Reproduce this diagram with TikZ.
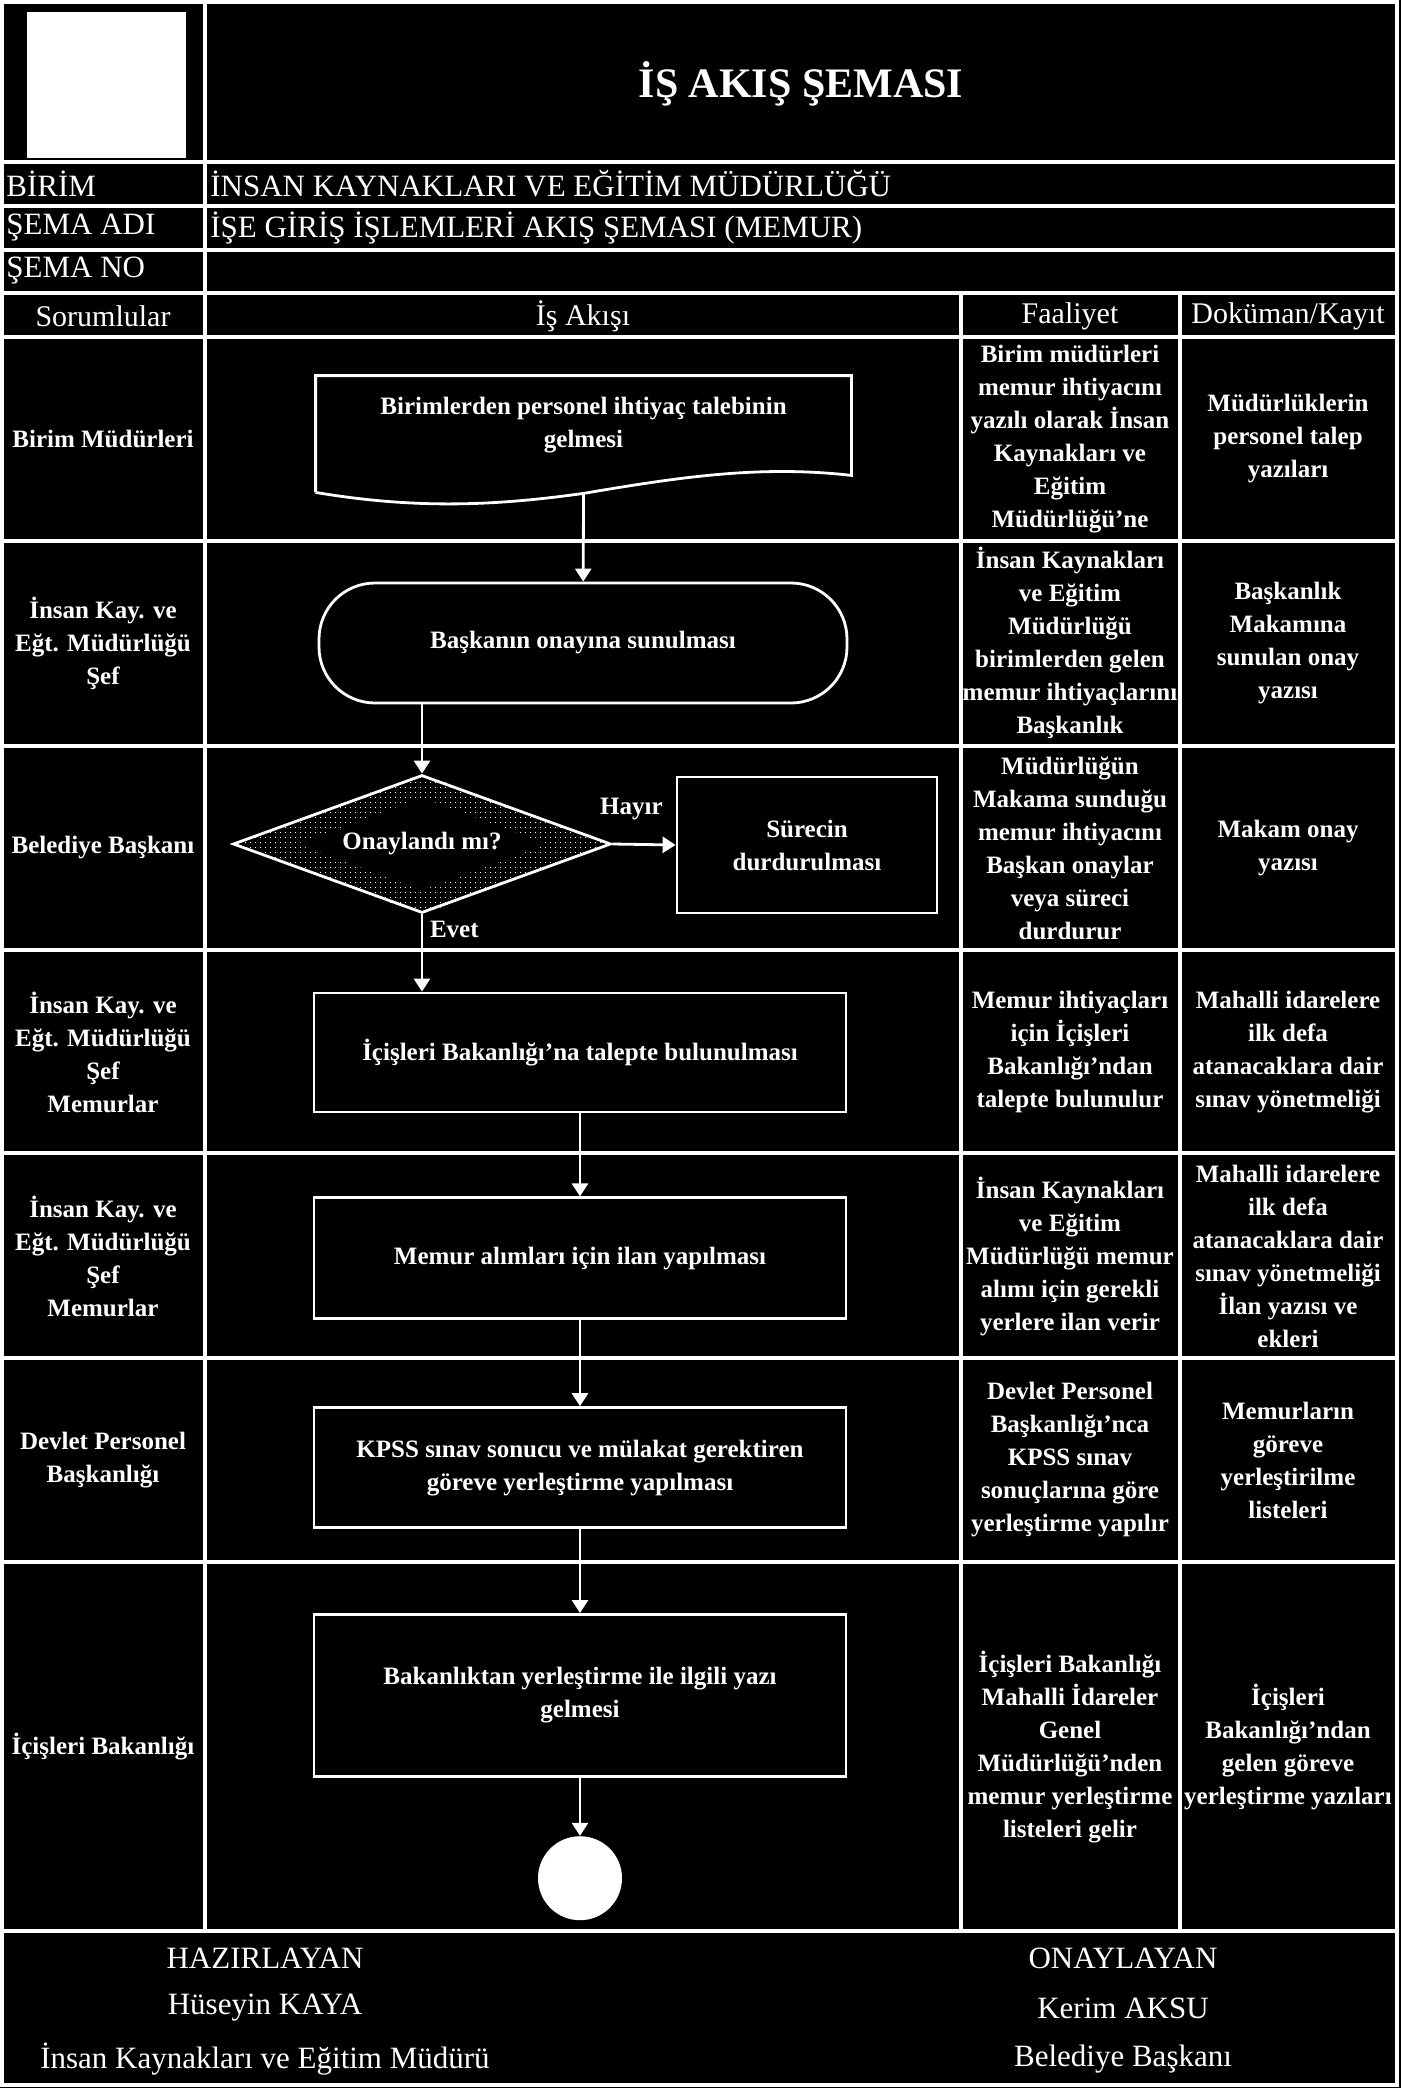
\documentclass[tikz,border=0pt]{standalone}
\usepackage{fontspec}
\setmainfont{Liberation Serif}
\usepackage{tikz}
\usetikzlibrary{shapes.geometric, arrows.meta, positioning, calc, patterns}
\definecolor{pagebg}{HTML}{000000}
\definecolor{linemain}{HTML}{FFFFFF}
\definecolor{textmain}{HTML}{FFFFFF}
\pgfdeclarepatternformonly{sparsedots}{\pgfpointorigin}{\pgfqpoint{2.5pt}{2.5pt}}{\pgfqpoint{2.5pt}{2.5pt}}{%
    \pgfpathrectangle{\pgfpointorigin}{\pgfqpoint{0.55pt}{0.55pt}}\pgfusepath{fill}}
\newcommand{\lanefont}{\bfseries\fontsize{12.5}{16.5}\selectfont}
\newcommand{\headfont}{\fontsize{15.5}{18}\selectfont}
\tikzstyle{grid} = [draw=linemain, line width=1.7pt]
\tikzstyle{lane} = [align=center, text=textmain, font=\lanefont, inner sep=0pt]
\tikzstyle{head} = [text=textmain, font=\headfont, inner sep=0pt]
\tikzstyle{process} = [rectangle, draw=linemain, line width=1.4pt, minimum width=266pt, minimum height=60pt, align=center, text=textmain, font=\lanefont]
\tikzstyle{arrow} = [line width=1.4pt, draw=linemain, -{Triangle[length=6.5pt, width=8pt]}]

\begin{document}
\begin{tikzpicture}[x=0.5pt, y=-0.5pt]
    \fill[pagebg] (0,0) rectangle (1401,2088);
    \useasboundingbox (0,0) rectangle (1401,2088);

    % Frame
    \draw[grid] (2,2) rectangle (1397,2085);
    \draw[grid] (205,2) -- (205,1931);
    \foreach \y in {162,206,250,293,337,541,746,950,1153,1358,1562,1931}
        \draw[grid] (2,\y) -- (1397,\y);
    \foreach \x in {961,1180}
        \draw[grid] (\x,293) -- (\x,1931);

    % Header
    \node[fill=linemain, minimum width=79.5pt, minimum height=73pt, inner sep=0pt] (logo) at (106,85) {};
    \node[head, font=\bfseries\fontsize{21}{24}\selectfont] (title) at (801,84) {İŞ AKIŞ ŞEMASI};
    \node[head, anchor=west] (birim) at (6,184) {BİRİM};
    \node[head, anchor=west] (birimad) at (210,184) {İNSAN KAYNAKLARI VE EĞİTİM MÜDÜRLÜĞÜ};
    \node[head, anchor=west] (semaadi) at (6,228) {ŞEMA ADI};
    \node[head, anchor=west] (semaad) at (210,228) {İŞE GİRİŞ İŞLEMLERİ AKIŞ ŞEMASI (MEMUR)};
    \node[head, anchor=west] (semano) at (6,271) {ŞEMA NO};
    \node[head, font=\fontsize{15}{18}\selectfont] (colsor) at (103,316) {Sorumlular};
    \node[head, font=\fontsize{15}{18}\selectfont] (colis) at (583,316) {İş Akışı};
    \node[head, font=\fontsize{15}{18}\selectfont] (colfaa) at (1070,316) {Faaliyet};
    \node[head, font=\fontsize{15}{18}\selectfont] (coldok) at (1288,316) {Doküman/Kayıt};

    % Sorumlular
    \node[lane] (sor1) at (103,439) {Birim Müdürleri};
    \node[lane] (sor2) at (103,643) {İnsan Kay. ve\\Eğt. Müdürlüğü\\Şef};
    \node[lane] (sor3) at (103,848) {Belediye Başkanı};
    \node[lane] (sor4) at (103,1052) {İnsan Kay. ve\\Eğt. Müdürlüğü\\Şef\\Memurlar};
    \node[lane] (sor5) at (103,1256) {İnsan Kay. ve\\Eğt. Müdürlüğü\\Şef\\Memurlar};
    \node[lane] (sor6) at (103,1460) {Devlet Personel\\Başkanlığı};
    \node[lane] (sor7) at (103,1747) {İçişleri Bakanlığı};

    % Faaliyet
    \node[lane] (faa1) at (1070,439) {Birim müdürleri\\memur ihtiyacını\\yazılı olarak İnsan\\Kaynakları ve\\Eğitim\\Müdürlüğü'ne};
    \node[lane] (faa2) at (1070,643) {İnsan Kaynakları\\ve Eğitim\\Müdürlüğü\\birimlerden gelen\\memur ihtiyaçlarını\\Başkanlık};
    \node[lane] (faa3) at (1070,848) {Müdürlüğün\\Makama sunduğu\\memur ihtiyacını\\Başkan onaylar\\veya süreci\\durdurur};
    \node[lane] (faa4) at (1070,1052) {Memur ihtiyaçları\\için İçişleri\\Bakanlığı'ndan\\talepte bulunulur};
    \node[lane] (faa5) at (1070,1256) {İnsan Kaynakları\\ve Eğitim\\Müdürlüğü memur\\alımı için gerekli\\yerlere ilan verir};
    \node[lane] (faa6) at (1070,1460) {Devlet Personel\\Başkanlığı'nca\\KPSS sınav\\sonuçlarına göre\\yerleştirme yapılır};
    \node[lane] (faa7) at (1070,1747) {İçişleri Bakanlığı\\Mahalli İdareler\\Genel\\Müdürlüğü'nden\\memur yerleştirme\\listeleri gelir};

    % Doküman/Kayıt
    \node[lane] (dok1) at (1288,439) {Müdürlüklerin\\personel talep\\yazıları};
    \node[lane] (dok2) at (1288,643) {Başkanlık\\Makamına\\sunulan onay\\yazısı};
    \node[lane] (dok3) at (1288,848) {Makam onay\\yazısı};
    \node[lane] (dok4) at (1288,1052) {Mahalli idarelere\\ilk defa\\atanacaklara dair\\sınav yönetmeliği};
    \node[lane] (dok5) at (1288,1256) {Mahalli idarelere\\ilk defa\\atanacaklara dair\\sınav yönetmeliği\\İlan yazısı ve\\ekleri};
    \node[lane] (dok6) at (1288,1460) {Memurların\\göreve\\yerleştirilme\\listeleri};
    \node[lane] (dok7) at (1288,1747) {İçişleri\\Bakanlığı'ndan\\gelen göreve\\yerleştirme yazıları};

    % Flow
    \node[process, draw=none, minimum width=266.5pt, minimum height=48.5pt] (talepdoc) at (583.5,425.5) {Birimlerden personel ihtiyaç talebinin\\gelmesi};
    \draw[line width=1.4pt, linemain] ($(talepdoc.south west)+(0,17)$) -- (talepdoc.north west) -- (talepdoc.north east) -- (talepdoc.south east)
        .. controls (760,465) and (680,477) .. ($(talepdoc.south)+(0,18)$)
        .. controls (500,505) and (420,510) .. ($(talepdoc.south west)+(0,17)$);
    \coordinate (docwave) at ($(talepdoc.south)+(0,18)$);

    \node[process, rounded corners=28pt, minimum width=264pt] (onay) at (583,643) {Başkanın onayına sunulması};

    \node[diamond, draw=linemain, line width=1.4pt, minimum width=189pt, minimum height=69pt, aspect=2.74, inner sep=0pt, text=textmain, font=\lanefont] (karar) at (422,844) {Onaylandı mı?};
    \fill[pattern=sparsedots, pattern color=linemain, even odd rule]
        (karar.north) -- (karar.east) -- (karar.south) -- (karar.west) -- cycle
        ($(karar.north)+(0,24)$) -- ($(karar.east)+(-65,0)$) -- ($(karar.south)+(0,-24)$) -- ($(karar.west)+(65,0)$) -- cycle;

    \node[process, minimum width=130pt, minimum height=68pt] (durdur) at (807,845) {Sürecin\\durdurulması};

    \node[process, minimum height=59.5pt] (talep) at (580,1052.5) {İçişleri Bakanlığı'na talepte bulunulması};
    \node[process, below=41.5pt of talep, minimum height=60.5pt] (ilan) {Memur alımları için ilan yapılması};
    \node[process, below=43pt of ilan] (kpss) {KPSS sınav sonucu ve mülakat gerektiren\\göreve yerleştirme yapılması};
    \node[process, below=42pt of kpss, minimum height=81pt] (yazi) {Bakanlıktan yerleştirme ile ilgili yazı\\gelmesi};
    \node[circle, fill=linemain, minimum size=42pt, inner sep=0pt, below=29pt of yazi] (bitis) {};

    % Arrows
    \draw[arrow] (docwave) -- (onay);
    \draw[arrow] (karar.north |- onay.south) -- (karar.north);
    \draw[arrow] (karar.east) -- node[pos=0.3, above=8pt, text=textmain, font=\lanefont] {Hayır} (durdur.west);
    \draw[arrow] (karar.south) -- node[pos=0.2, right, text=textmain, font=\lanefont] {Evet} (karar.south |- talep.north);
    \draw[arrow] (talep) -- (ilan);
    \draw[arrow] (ilan) -- (kpss);
    \draw[arrow] (kpss) -- (yazi);
    \draw[arrow] (yazi) -- (bitis);

    % Footer
    \node[head] (hazir) at (265,1958) {HAZIRLAYAN};
    \node[head] (hazirad) at (265,2008) {Hüseyin KAYA};
    \node[head] (hazirunvan) at (265,2059) {İnsan Kaynakları ve Eğitim Müdürü};
    \node[head] (onaylayan) at (1123,1958) {ONAYLAYAN};
    \node[head] (onayad) at (1123,2008) {Kerim AKSU};
    \node[head] (onayunvan) at (1123,2059) {Belediye Başkanı};
\end{tikzpicture}
\end{document}
